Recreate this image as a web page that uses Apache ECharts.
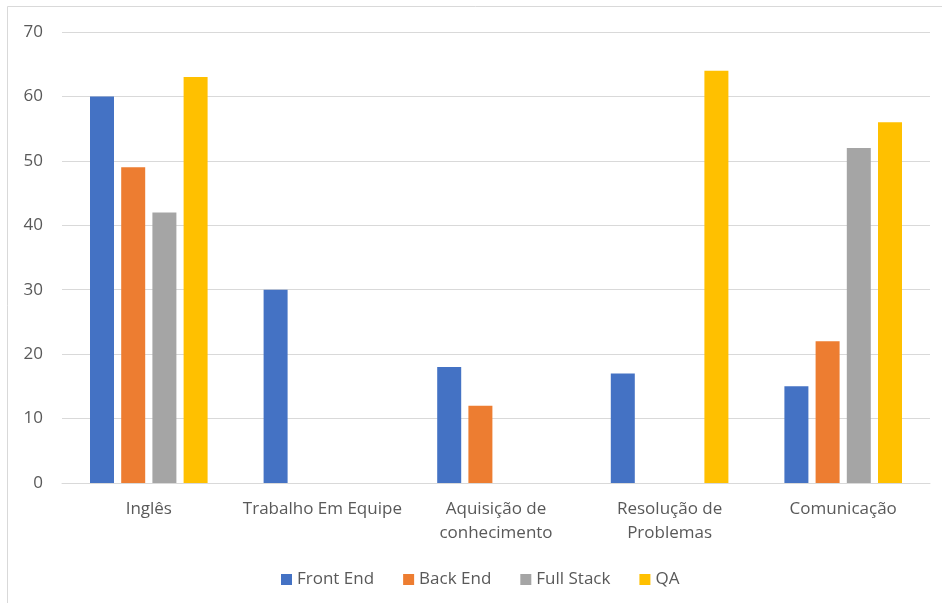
<!DOCTYPE html>
<html>
<head>
<meta charset="utf-8">
<script src="https://cdn.jsdelivr.net/npm/echarts@6/dist/echarts.min.js"></script>
<style>
  html, body { margin: 0; padding: 0; background: #fff; }
  #chart { width: 942px; height: 603px; }
</style>
</head>
<body>
<div id="chart"></div>
<script>
// Skills demanded per role
const categories = ['Inglês', 'Trabalho Em Equipe', 'Aquisição de\nconhecimento', 'Resolução de\nProblemas', 'Comunicação'];
const frontEnd  = [60, 30, 18, 17, 15];
const backEnd   = [49, 0, 12, 0, 22];
const fullStack = [42, 0, 0, 0, 52];
const qa        = [63, 0, 0, 64, 56];
const yTicks = { min: 0, max: 70, interval: 10 };

const seriesNames = ['Front End', 'Back End', 'Full Stack', 'QA'];
const seriesData = [frontEnd, backEnd, fullStack, qa];
const colors = ['#4472C4', '#ED7D31', '#A5A5A5', '#FFC000'];

const fontFamily = '"Open Sans", "Liberation Sans", sans-serif';
const textColor = '#595959';

const chart = echarts.init(document.getElementById('chart'), null, { renderer: 'canvas' });

chart.setOption({
  animation: false,
  backgroundColor: '#ffffff',
  color: colors,
  textStyle: { fontFamily: fontFamily, color: textColor },
  graphic: [{
    type: 'rect',
    shape: { x: 7.5, y: 6.5, width: 1000, height: 700 },
    style: { fill: null, stroke: '#d9d9d9', lineWidth: 1 },
    silent: true,
    z: -1
  }],
  grid: { left: 62, right: 12, top: 32, bottom: 120, containLabel: false },
  legend: {
    left: 276,
    top: 566,
    itemWidth: 11,
    itemHeight: 11,
    itemGap: 29,
    icon: 'rect',
    textStyle: { fontFamily: fontFamily, color: textColor, fontSize: 17 },
    data: seriesNames
  },
  xAxis: {
    type: 'category',
    data: categories,
    axisLine: { show: true, lineStyle: { color: '#d9d9d9', width: 1 } },
    axisTick: { show: false },
    axisLabel: {
      color: textColor, fontSize: 17, fontFamily: fontFamily,
      margin: 14, lineHeight: 24, interval: 0
    }
  },
  yAxis: {
    type: 'value',
    min: yTicks.min,
    max: yTicks.max,
    interval: yTicks.interval,
    axisLine: { show: false },
    axisTick: { show: false },
    splitLine: { lineStyle: { color: '#d9d9d9', width: 1 } },
    axisLabel: { color: textColor, fontSize: 17, fontFamily: fontFamily, margin: 19 }
  },
  series: seriesNames.map((name, i) => ({
    name: name,
    type: 'bar',
    data: seriesData[i],
    barWidth: 24,
    barGap: '30%',
    itemStyle: { color: colors[i] }
  }))
});
</script>
</body>
</html>
